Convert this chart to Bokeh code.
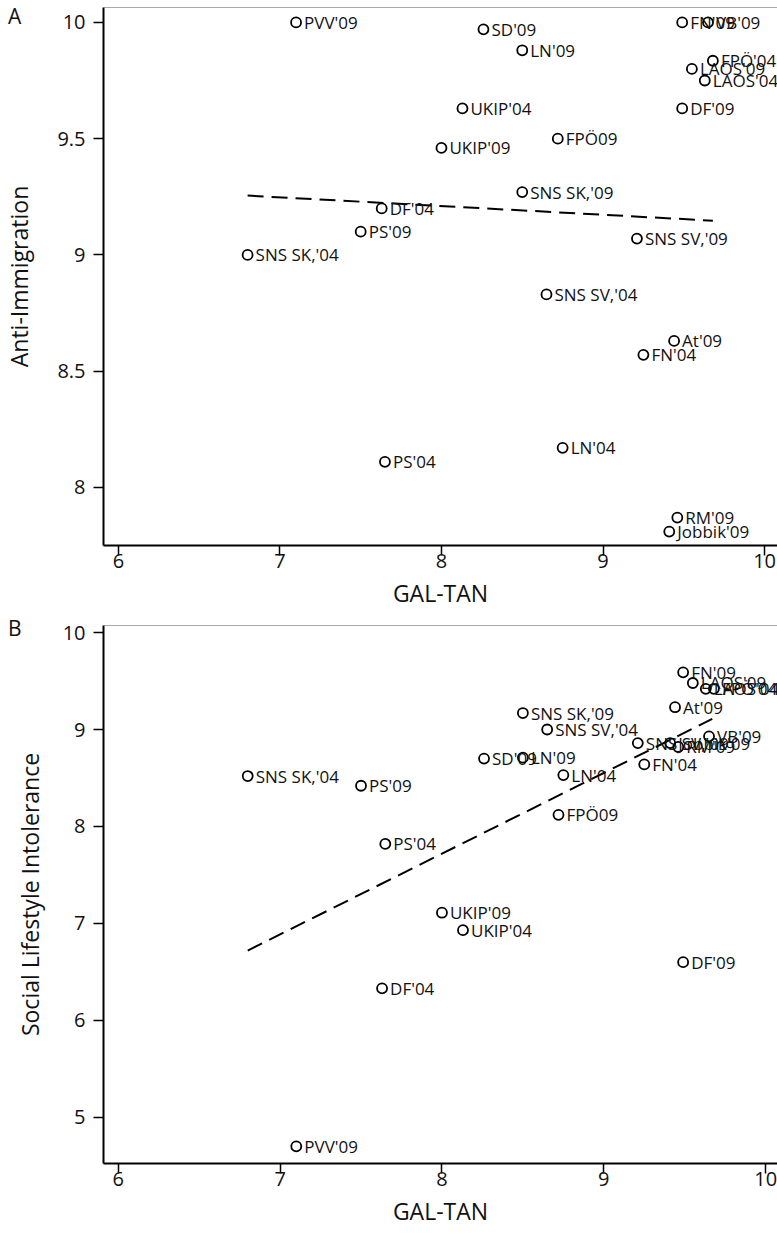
from bokeh.plotting import figure
from bokeh.layouts import column
from bokeh.models import ColumnDataSource, Span, FixedTicker, Range1d, Div
from bokeh.embed import file_html
from bokeh.resources import INLINE

FONT = "Open Sans"

parties = ["PVV'09", "SD'09", "LN'09", "FN'09", "VB'09", "FPÖ'04", "LAOS'09", "LAOS'04",
           "DF'09", "UKIP'04", "FPÖ09", "UKIP'09", "SNS SK,'09", "DF'04", "PS'09",
           "SNS SK,'04", "SNS SV,'09", "SNS SV,'04", "At'09", "FN'04", "LN'04", "PS'04",
           "RM'09", "Jobbik'09"]
gal_tan = [7.10, 8.26, 8.50, 9.49, 9.65, 9.68, 9.55, 9.63,
           9.49, 8.13, 8.72, 8.00, 8.50, 7.63, 7.50,
           6.80, 9.21, 8.65, 9.44, 9.25, 8.75, 7.65,
           9.46, 9.41]
anti_immigration = [10.00, 9.97, 9.88, 10.00, 10.00, 9.835, 9.80, 9.75,
                    9.63, 9.63, 9.50, 9.46, 9.27, 9.20, 9.10,
                    9.00, 9.07, 8.83, 8.63, 8.57, 8.17, 8.11,
                    7.87, 7.81]
social_intolerance = [4.70, 8.70, 8.71, 9.59, 8.93, 9.42, 9.48, 9.42,
                      6.60, 6.93, 8.12, 7.11, 9.17, 6.33, 8.42,
                      8.52, 8.86, 9.00, 9.23, 8.64, 8.53, 7.82,
                      8.82, 8.86]

fit_a_x = [6.80, 9.68]
fit_a_y = [9.255, 9.147]
fit_b_x = [6.80, 9.67]
fit_b_y = [6.72, 9.11]

xticks = [6, 7, 8, 9, 10]
yticks_a = [8, 8.5, 9, 9.5, 10]
yticks_a_labels = ["8", "8.5", "9", "9.5", "10"]
yticks_b = [5, 6, 7, 8, 9, 10]
yticks_b_labels = ["5", "6", "7", "8", "9", "10"]


def panel(yvals, fx, fy, xr, yr, yticks, ylabels, ylabel, height,
          b_left, b_top, b_bottom, ystand, xstand):
    p = figure(width=777, height=height, output_backend="svg", toolbar_location=None,
               x_range=Range1d(*xr), y_range=Range1d(*yr),
               min_border_left=b_left, min_border_right=0,
               min_border_top=b_top, min_border_bottom=b_bottom)
    p.outline_line_color = None
    p.background_fill_color = "white"
    p.border_fill_color = "white"
    p.grid.visible = False
    src = ColumnDataSource(dict(x=gal_tan, y=yvals, t=parties))
    p.line(fx, fy, line_color="black", line_width=2, line_dash="16 8")
    p.scatter("x", "y", source=src, marker="circle", size=10, fill_color=None,
              line_color="black", line_width=1.8)
    p.text("x", "y", text="t", source=src, x_offset=8, text_baseline="middle",
           text_align="left", text_font_size="17px", text_color="#111111",
           text_font={"value": FONT})
    p.add_layout(Span(location=yr[1], dimension="width", line_color="#555555",
                      line_width=1.2))
    for ax in (p.xaxis[0], p.yaxis[0]):
        ax.axis_line_color = "black"
        ax.axis_line_width = 2
        ax.major_tick_in = 0
        ax.major_tick_out = 10
        ax.major_tick_line_width = 1.5
        ax.minor_tick_line_color = None
        ax.major_label_text_font = FONT
        ax.major_label_text_font_size = "20px"
        ax.major_label_text_color = "#111111"
        ax.axis_label_text_font = FONT
        ax.axis_label_text_font_size = "23px"
        ax.axis_label_text_font_style = "normal"
        ax.axis_label_text_color = "#111111"
    p.xaxis[0].major_label_standoff = -2
    p.yaxis[0].major_label_standoff = 8
    p.xaxis[0].ticker = FixedTicker(ticks=xticks)
    p.xaxis[0].axis_label = "GAL-TAN"
    p.xaxis[0].axis_label_standoff = xstand
    p.yaxis[0].ticker = FixedTicker(ticks=yticks)
    p.yaxis[0].major_label_overrides = {k: v for k, v in zip(yticks, ylabels)}
    p.yaxis[0].axis_label = ylabel
    p.yaxis[0].axis_label_standoff = ystand
    return p


def letter(text, left, top):
    return Div(text=text, styles={"position": "absolute", "left": f"{left}px",
                                  "top": f"{top}px", "font-family": FONT,
                                  "font-size": "21px", "line-height": "21px",
                                  "color": "#111111", "z-index": "10",
                                  "margin": "0", "padding": "0"})


pA = panel(anti_immigration, fit_a_x, fit_a_y, (5.908, 10.08), (7.750, 10.064),
           yticks_a, yticks_a_labels, "Anti-Immigration", 618,
           99, 7, 73, 19, 6)
pB = panel(social_intolerance, fit_b_x, fit_b_y, (5.909, 10.073), (4.523, 10.073),
           yticks_b, yticks_b_labels, "Social Lifestyle Intolerance", 618,
           92, 7, 73, 14, 6)

layout = column(letter("A", 8, 6), letter("B", 8, 618), pA, pB, spacing=0)
open("out.html", "w").write(file_html(layout, INLINE))
